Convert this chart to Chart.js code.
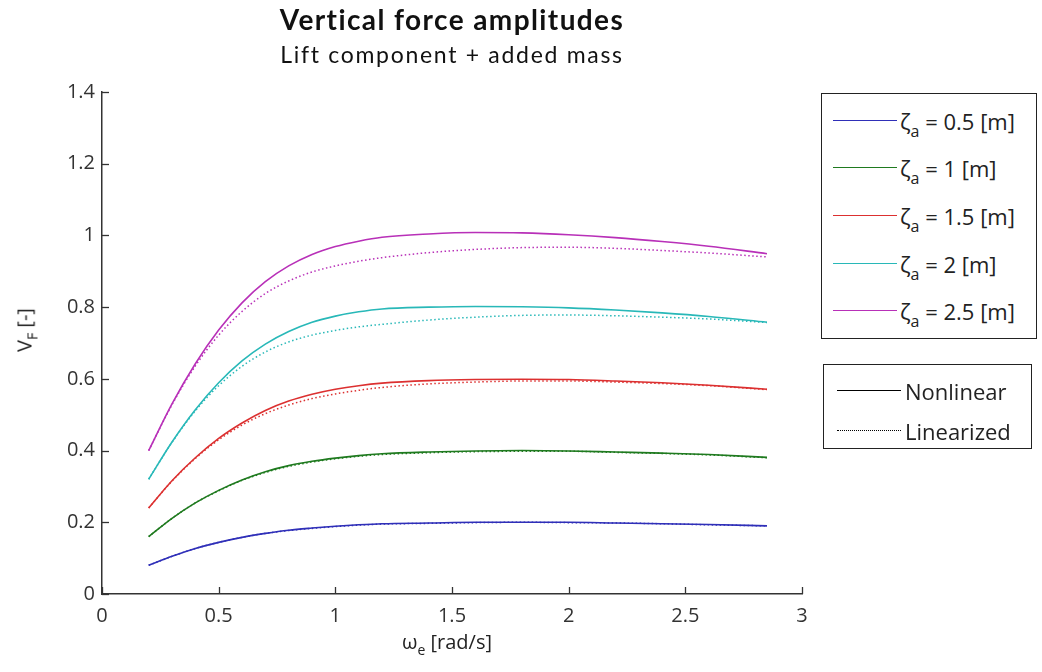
<!DOCTYPE html>
<html>
<head>
<meta charset="utf-8">
<script src="https://cdn.jsdelivr.net/npm/chart.js@4"></script>
<style>
  html, body { margin: 0; padding: 0; background: #fff; }
  #wrap { position: relative; width: 1042px; height: 672px; overflow: hidden; font-family: "Open Sans", sans-serif; color: #222; }
  #wrap canvas { position: absolute; left: 0; top: 0; }
  .title { position: absolute; left: 102px; width: 700px; text-align: center; font-family: Lato, sans-serif; color: #111; white-space: nowrap; line-height: 1.2; }
  .t1 { top: 3px; font-size: 28px; font-weight: bold; letter-spacing: 1.4px; }
  .t2 { top: 41px; font-size: 23px; letter-spacing: 1.7px; }
  .axt { position: absolute; font-size: 20px; white-space: nowrap; color: #222; }
  .axt sub { font-size: 14px; vertical-align: -6px; }
  .leg { position: absolute; border: 1.5px solid #222; background: #fff; }
  .item { position: absolute; height: 30px; white-space: nowrap; font-size: 22px; line-height: 30px; }
  .item .ln { position: absolute; left: 0; top: 14px; width: 64px; height: 0; border-top: 1.5px solid #000; }
  .item .tx { position: absolute; left: 67px; top: 0; }
  .item sub { font-size: 16px; vertical-align: -7px; }
</style>
</head>
<body>
<div id="wrap">
  <canvas id="c" width="1042" height="672"></canvas>
  <div class="title t1">Vertical force amplitudes</div>
  <div class="title t2">Lift component + added mass</div>
  <div class="axt" id="xt" style="left:447px; top:643px; transform: translate(-50%,-50%);">ω<sub>e</sub> [rad/s]</div>
  <div class="axt" id="yt" style="left:26px; top:330px; transform: translate(-50%,-50%) rotate(-90deg);">V<sub>F</sub> [-]</div>
  <div class="leg" id="leg1" style="left:821px; top:93px; width:214px; height:244px;"></div>
  <div class="leg" id="leg2" style="left:823px; top:364px; width:207px; height:83px;"></div>
</div>
<script>
// ---- data ----
const omega = [0.2, 0.3, 0.4, 0.5, 0.6, 0.7, 0.8, 0.9, 1.0, 1.1, 1.2, 1.4, 1.6, 1.8, 2.0, 2.2, 2.4, 2.6, 2.85];
const amplitudes = ["0.5", "1", "1.5", "2", "2.5"];
// Nonlinear
const nl05 = [0.08, 0.105, 0.127, 0.144, 0.158, 0.169, 0.178, 0.184, 0.189, 0.193, 0.196, 0.198, 0.2, 0.2, 0.2, 0.198, 0.196, 0.194, 0.19];
const nl10 = [0.16, 0.211, 0.254, 0.289, 0.318, 0.341, 0.358, 0.370, 0.379, 0.386, 0.391, 0.396, 0.399, 0.4, 0.399, 0.396, 0.393, 0.389, 0.381];
const nl15 = [0.24, 0.316, 0.38, 0.434, 0.477, 0.512, 0.538, 0.557, 0.571, 0.581, 0.588, 0.595, 0.598, 0.599, 0.598, 0.594, 0.589, 0.582, 0.571];
const nl20 = [0.32, 0.424, 0.514, 0.589, 0.65, 0.697, 0.732, 0.758, 0.775, 0.787, 0.795, 0.8, 0.802, 0.801, 0.798, 0.792, 0.784, 0.774, 0.758];
const nl25 = [0.4, 0.53, 0.642, 0.736, 0.812, 0.871, 0.915, 0.947, 0.969, 0.984, 0.995, 1.004, 1.008, 1.007, 1.002, 0.994, 0.983, 0.97, 0.949];
// Linearized
const li05 = [0.08, 0.105, 0.127, 0.144, 0.158, 0.169, 0.177, 0.183, 0.188, 0.192, 0.195, 0.197, 0.199, 0.2, 0.199, 0.198, 0.196, 0.193, 0.19];
const li10 = [0.16, 0.211, 0.254, 0.288, 0.317, 0.339, 0.356, 0.368, 0.377, 0.384, 0.389, 0.394, 0.397, 0.398, 0.398, 0.395, 0.392, 0.388, 0.38];
const li15 = [0.24, 0.315, 0.378, 0.43, 0.471, 0.503, 0.527, 0.545, 0.558, 0.568, 0.576, 0.586, 0.591, 0.594, 0.594, 0.591, 0.587, 0.581, 0.57];
const li20 = [0.32, 0.423, 0.511, 0.581, 0.635, 0.675, 0.703, 0.722, 0.735, 0.745, 0.752, 0.764, 0.772, 0.777, 0.778, 0.776, 0.772, 0.767, 0.757];
const li25 = [0.4, 0.528, 0.636, 0.722, 0.788, 0.838, 0.873, 0.898, 0.915, 0.928, 0.938, 0.952, 0.961, 0.966, 0.967, 0.964, 0.958, 0.951, 0.94];
const xTicks = [0, 0.5, 1, 1.5, 2, 2.5, 3];
const yTicks = [0, 0.2, 0.4, 0.6, 0.8, 1, 1.2, 1.4];

const colors = ["#2f2fb8", "#1f7a1f", "#dc3030", "#28b8b8", "#b830b8"];
const nlSeries = [nl05, nl10, nl15, nl20, nl25];
const liSeries = [li05, li10, li15, li20, li25];

const pts = arr => arr.map((v, i) => ({ x: omega[i], y: v }));
const datasets = [];
nlSeries.forEach((s, k) => datasets.push({
  label: "ζa = " + amplitudes[k] + " [m]", data: pts(s), borderColor: colors[k],
  borderWidth: 1.6, pointRadius: 0, cubicInterpolationMode: "monotone", fill: false
}));
liSeries.forEach((s, k) => datasets.push({
  label: "lin " + amplitudes[k], data: pts(s), borderColor: colors[k],
  borderWidth: 1.5, borderDash: [1.5, 2.5], pointRadius: 0, cubicInterpolationMode: "monotone", fill: false
}));

const inwardTicks = {
  id: "inwardTicks",
  afterDraw(chart) {
    const { ctx, chartArea: a, scales: { x, y } } = chart;
    ctx.save();
    ctx.strokeStyle = "#333";
    ctx.lineWidth = 1.3;
    xTicks.forEach(v => {
      const p = Math.round(x.getPixelForValue(v)) + 0.5;
      ctx.beginPath(); ctx.moveTo(p, a.bottom); ctx.lineTo(p, a.bottom - 7); ctx.stroke();
    });
    yTicks.forEach(v => {
      const p = Math.round(y.getPixelForValue(v)) + 0.5;
      ctx.beginPath(); ctx.moveTo(a.left, p); ctx.lineTo(a.left + 7, p); ctx.stroke();
    });
    ctx.restore();
  }
};

const fmt = v => String(+Number(v).toFixed(1));
const tickFont = { family: "'Open Sans', sans-serif", size: 20 };
new Chart(document.getElementById("c"), {
  type: "line",
  data: { datasets },
  options: {
    responsive: false,
    animation: false,
    layout: { padding: { left: 0, top: 92, right: 240, bottom: 0 } },
    plugins: { legend: { display: false }, title: { display: false }, tooltip: { enabled: false } },
    scales: {
      x: {
        type: "linear", min: 0, max: 3,
        afterBuildTicks: s => { s.ticks = xTicks.map(v => ({ value: v })); },
        afterFit: s => { s.height = 78; },
        ticks: { font: tickFont, color: "#333", padding: 10, maxRotation: 0, callback: fmt },
        grid: { drawOnChartArea: false, drawTicks: false },
        border: { display: true, color: "#333", width: 1.5 }
      },
      y: {
        type: "linear", min: 0, max: 1.4,
        afterBuildTicks: s => { s.ticks = yTicks.map(v => ({ value: v })); },
        afterFit: s => { s.width = 102; },
        ticks: { font: tickFont, color: "#333", padding: 7, callback: fmt },
        grid: { drawOnChartArea: false, drawTicks: false },
        border: { display: true, color: "#333", width: 1.5 }
      }
    }
  },
  plugins: [inwardTicks]
});

// ---- legends (HTML) ----
const leg1 = document.getElementById("leg1");
const rows1 = [27, 74, 122, 170, 217];
amplitudes.forEach((a, k) => {
  const d = document.createElement("div");
  d.className = "item";
  d.style.left = "11px"; d.style.top = (rows1[k] - 15) + "px";
  d.innerHTML = '<div class="ln" style="border-top-color:' + colors[k] + '"></div><div class="tx">ζ<sub>a</sub> = ' + a + ' [m]</div>';
  leg1.appendChild(d);
});
const leg2 = document.getElementById("leg2");
[["Nonlinear", "solid", 26], ["Linearized", "dotted", 66]].forEach(([t, st, yy]) => {
  const d = document.createElement("div");
  d.className = "item";
  d.style.left = "13px"; d.style.top = (yy - 15) + "px";
  d.innerHTML = '<div class="ln" style="border-top-style:' + st + '"></div><div class="tx" style="left:68px">' + t + '</div>';
  leg2.appendChild(d);
});
</script>
</body>
</html>
